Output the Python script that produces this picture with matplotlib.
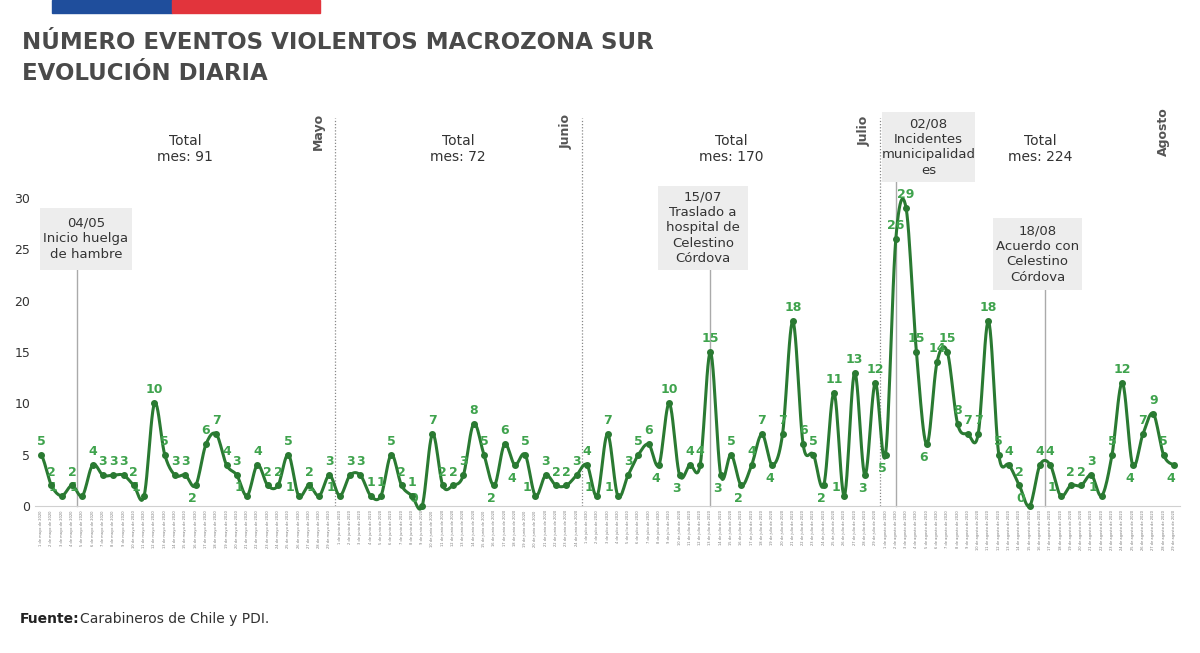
import matplotlib
matplotlib.use("Agg")
import matplotlib.pyplot as plt
import numpy as np
from matplotlib.patches import Rectangle

may = [5,2,1,2,1,4,3,3,3,2,1,10,5,3,3,2,6,7,4,3,1,4,2,2,5,1,2,1,3]
june = [1,3,3,1,1,5,2,1,0,7,2,2,3,8,5,2,6,4,5,1,3,2,2,3]
july = [4,1,7,1,3,5,6,4,10,3,4,4,15,3,5,2,4,7,4,7,18,6,5,2,11,1,13,3,12]
august = [5,26,29,15,6,14,15,8,7,7,18,5,4,2,0,4,4,1,2,2,3,1,5,12,4,7,9,5,4]
months = ["Mayo", "Junio", "Julio", "Agosto"]
month_names = ["mayo", "junio", "julio", "agosto"]
totals = [91, 72, 170, 224]
series = [may, june, july, august]
events = [("04/05\nInicio huelga\nde hambre", 3.5),
          ("15/07\nTraslado a\nhospital de\nCelestino\nCórdova", 53+12),
          ("02/08\nIncidentes\nmunicipalidad\nes", 82+1),
          ("18/08\nAcuerdo con\nCelestino\nCórdova", 82+15.5)]

vals = np.array(sum(series, []), dtype=float)
labels = []
for m, s in zip(month_names, series):
    labels += [f"{i+1} de {m} de 2020" for i in range(len(s))]
n = len(vals)
x = np.arange(n)

# Catmull-Rom smoothing
xs, ys = [], []
p = np.concatenate([[vals[0]], vals, [vals[-1]]])
for i in range(n - 1):
    t = np.linspace(0, 1, 12, endpoint=False)
    p0, p1, p2, p3 = p[i], p[i+1], p[i+2], p[i+3]
    y = 0.5*((2*p1) + (-p0+p2)*t + (2*p0-5*p1+4*p2-p3)*t**2 + (-p0+3*p1-3*p2+p3)*t**3)
    xs.extend(i + t); ys.extend(y)
xs.append(n-1); ys.append(vals[-1])

W, H = 1200, 653
fig = plt.figure(figsize=(12, 6.53), dpi=100)
fig.patch.set_facecolor("white")
ax = fig.add_axes([35/W, 1-506/H, 1145/W, (506-198)/H])
ax.set_xlim(-0.6, n-0.4)
ax.set_ylim(0, 30)
ax.plot(xs, ys, color="#2a7a32", lw=2.2, clip_on=False, zorder=3)
ax.plot(x, vals, "o", color="#2a7a32", ms=4, zorder=4, clip_on=False)
green = "#3fa34d"
for i, v in enumerate(vals):
    prev = vals[i-1] if i > 0 else v + 1
    nxt = vals[i+1] if i < n-1 else v + 1
    if v < prev and v < nxt:
        if v <= 1:
            ax.annotate(f"{int(v)}", (i, v), xytext=(-3, 1), textcoords="offset points",
                        ha="right", va="bottom", color=green, fontsize=9, fontweight="bold")
        else:
            ax.annotate(f"{int(v)}", (i, v), xytext=(-2, -5), textcoords="offset points",
                        ha="center", va="top", color=green, fontsize=9, fontweight="bold")
    else:
        ax.annotate(f"{int(v)}", (i, v), xytext=(0, 5), textcoords="offset points",
                    ha="center", va="bottom", color=green, fontsize=9, fontweight="bold")

for sp in ["top", "right", "left"]:
    ax.spines[sp].set_visible(False)
ax.spines["bottom"].set_color("#d0d0d0")
ax.set_yticks(range(0, 31, 5))
ax.tick_params(axis="y", length=0, labelsize=9, colors="#333333")
ax.set_xticks(x)
ax.set_xticklabels(labels, rotation=90, fontsize=2.6, color="#777777")
ax.tick_params(axis="x", length=0, pad=3)

bounds = np.cumsum([len(s) for s in series])
starts = np.concatenate([[0], bounds[:-1]])
for k in range(4):
    sep = bounds[k] - 0.5
    if k < 3:
        ax.plot([sep, sep], [0, 37.8], ls=(0, (1, 1.5)), color="#888888", lw=0.9, clip_on=False)
    ax.text(sep - 0.9, 36.5, months[k], rotation=90, ha="right", va="center",
            fontsize=9, fontweight="bold", color="#555555")
    cx = (starts[k] + bounds[k] - 1) / 2 + (1 if k == 3 else 0)
    ax.text(cx, 34.8, f"Total\nmes: {totals[k]}", ha="center", va="center",
            fontsize=10, color="#333333", linespacing=1.2)

box_pos = [(40, 208, 132, 270), (658, 186, 748, 270), (882, 112, 975, 182), (993, 218, 1082, 290)]
for (txt, xe), (x0, y0, x1, y1) in zip(events, box_pos):
    top = (506 - y1) / (308/30)
    ax.plot([xe, xe], [0, top], color="#aaaaaa", lw=1, clip_on=False, zorder=1)
    fig.patches.append(Rectangle((x0/W, 1-y1/H), (x1-x0)/W, (y1-y0)/H,
                                 transform=fig.transFigure, facecolor="#ededed",
                                 edgecolor="none", zorder=0))
    fig.text((x0+x1)/2/W, 1-(y0+y1)/2/H, txt, ha="center", va="center",
             fontsize=9.5, color="#333333", linespacing=1.25)

fig.patches.append(Rectangle((52/W, 1-13/H), 120/W, 13/H, transform=fig.transFigure, color="#1f4e9c"))
fig.patches.append(Rectangle((172/W, 1-13/H), 148/W, 13/H, transform=fig.transFigure, color="#e2343c"))

fig.text(22/W, 1-31/H, "NÚMERO EVENTOS VIOLENTOS MACROZONA SUR\nEVOLUCIÓN DIARIA",
         ha="left", va="top", fontsize=16.5, fontweight="bold", color="#4a4a4a", linespacing=1.45)
fig.text(20/W, 1-619/H, "Fuente:", ha="left", va="center", fontsize=10,
         fontweight="bold", color="#222222")
fig.text(80/W, 1-619/H, "Carabineros de Chile y PDI.", ha="left", va="center",
         fontsize=10, color="#333333")

fig.savefig("out.png", dpi=100)
